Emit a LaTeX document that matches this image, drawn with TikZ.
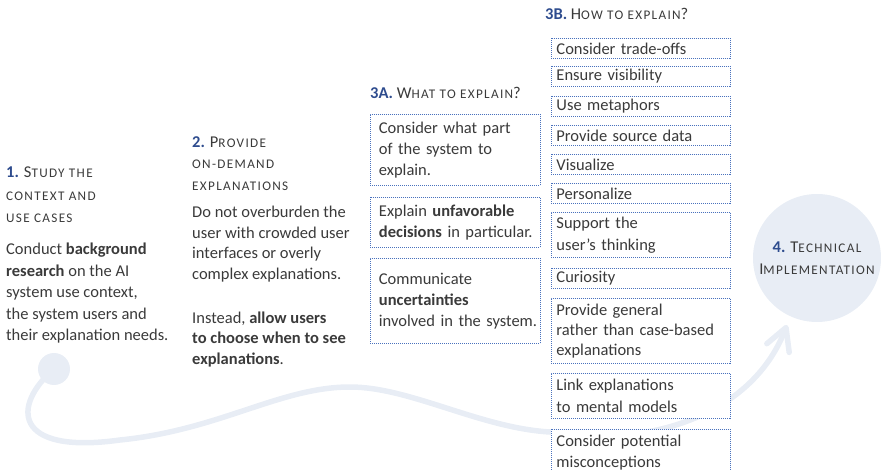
\documentclass[tikz,border=0pt]{standalone}
\usepackage{fontspec}
\setmainfont{Carlito}
\usetikzlibrary{arrows.meta}
\definecolor{Ink}{HTML}{3A3A3A}
\definecolor{StepBlue}{HTML}{2E4C8E}
\definecolor{DotBlue}{HTML}{4A72BD}
\definecolor{PathHaze}{HTML}{E8EDF5}
\newcommand\smcp[1]{{\fontsize{13.2pt}{0pt}\selectfont\addfontfeature{LetterSpace=10}\uppercase{#1}}}
\newcommand\stepno[1]{\textbf{\color{StepBlue}#1}}

\begin{document}
\begin{tikzpicture}[x=1pt,y=-1pt,>=Latex,every node/.style={text=Ink,font=\fontsize{16.5pt}{21.5pt}\selectfont},
  stagehead/.style={anchor=north west,inner sep=0pt,align=left},
  stagetext/.style={anchor=north west,inner sep=0pt,align=left},
  whatbox/.style={anchor=north west,draw=DotBlue,line width=0.9pt,dash pattern=on 1pt off 1pt,fill=white,text width=153pt,inner xsep=8.5pt,inner ysep=7pt,align=left,font=\fontsize{16.5pt}{21pt}\selectfont},
  howbox/.style={anchor=north west,draw=DotBlue,line width=0.9pt,dash pattern=on 1pt off 1pt,fill=white,text width=169pt,inner xsep=5pt,inner ysep=2pt,minimum height=20pt,align=left}]
\useasboundingbox(0,0)rectangle(881,470);
% the winding path from the first step to the last
\node[circle,fill=PathHaze,minimum size=32pt,inner sep=0pt](s1dot)at(54,369){};\coordinate(tip)at(787,325);
\draw[PathHaze,line width=5.5pt,line cap=round,-{Straight Barb[length=22pt,width=24pt,round]}](s1dot.center)..controls(12,405)and(12,455)..(120,440)..controls(220,430)and(280,387)..(350,387)..controls(410,387)and(480,428)..(550,432)..controls(640,448)and(750,420)..(tip);
\node[circle,fill=PathHaze,minimum size=128pt,inner sep=0pt,align=center,font=\fontsize{16.5pt}{22pt}\selectfont](s4)at(817,258){\stepno{4.} T\smcp{echnical}\\I\smcp{mplementation}};
% steps 1 and 2
\node[stagehead,font=\fontsize{16.5pt}{22.5pt}\selectfont](s1head)at(6,167){\stepno{1.} S\smcp{tudy the}\\\smcp{context and}\\\smcp{use cases}};
\node[stagetext](s1text)at(6,243){Conduct \textbf{background}\\\textbf{research} on the AI\\system use context,\\the system users and\\their explanation needs.};
\node[stagehead](s2head)at(192,136){\stepno{2.} P\smcp{rovide}\\\smcp{on-demand}\\\smcp{explanations}};
\node[stagetext,font=\fontsize{16.5pt}{20.5pt}\selectfont](s2text)at(192,206){Do not overburden the\\user with crowded user\\interfaces or overly\\complex explanations.\\[23.5pt]Instead, \textbf{allow users}\\\textbf{to choose when to see}\\\textbf{explanations}.};
% 3A what
\node[stagehead](s3ahead)at(370,87){\stepno{3A.} W\smcp{hat to explain}?};
\node[whatbox,minimum height=71pt](what1)at(370,114){Consider what part\\of the system to\\explain.};
\node[whatbox,minimum height=50pt](what2)at(370,197){Explain \textbf{unfavorable}\\\mbox{\textbf{decisions} in particular.}};
\node[whatbox,minimum height=85pt](what3)at(370,258){Communicate\\\textbf{uncertainties}\\\mbox{involved in the system.}};
% 3B how
\node[stagehead](s3bhead)at(545,8){\stepno{3B.} H\smcp{ow to explain}?};
\node[howbox](how1)at(551,38){Consider trade-offs};
\node[howbox](how2)at(551,66){Ensure visibility};
\node[howbox](how3)at(551,96){Use metaphors};
\node[howbox](how4)at(551,125){Provide source data};
\node[howbox](how5)at(551,154){Visualize};
\node[howbox](how6)at(551,183){Personalize};
\node[howbox,minimum height=45pt](how7)at(551,212){Support the\\user’s thinking};
\node[howbox](how8)at(551,268){Curiosity};
\node[howbox,minimum height=65pt,font=\fontsize{16.5pt}{20pt}\selectfont](how9)at(551,298){Provide general\\rather than case-based\\explanations};
\node[howbox,minimum height=45pt](how10)at(551,373){Link explanations\\to mental models};
\node[howbox,minimum height=46pt](how11)at(551,429){Consider potential\\misconceptions};
\end{tikzpicture}
\end{document}
